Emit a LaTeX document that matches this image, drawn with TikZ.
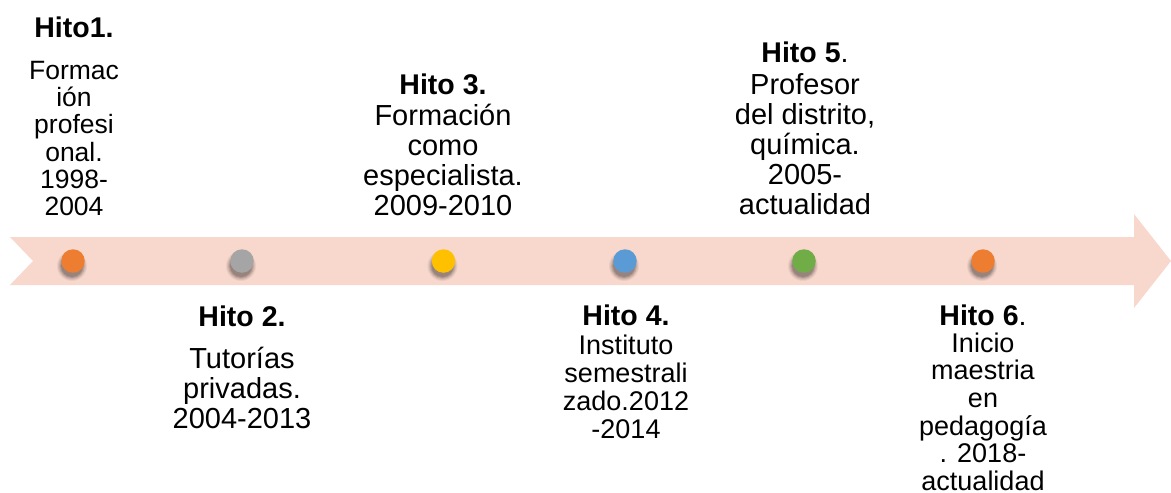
\documentclass[tikz,border=0pt]{standalone}
\usepackage{fontspec}
\setmainfont{Liberation Sans}
\definecolor{bandc}{HTML}{F8D7CC}
\definecolor{dorange}{HTML}{ED7D31}
\definecolor{dgray}{HTML}{A5A5A5}
\definecolor{dyellow}{HTML}{FFC000}
\definecolor{dblue}{HTML}{5B9BD5}
\definecolor{dgreen}{HTML}{70AD47}
\newcommand{\tlcol}[1]{\begin{tabular}[t]{@{}c@{}}#1\end{tabular}}
\begin{document}
\begin{tikzpicture}[x=1pt,y=-1pt,
  dot/.style={circle,minimum size=23.5pt,inner sep=0pt},
  head/.style={inner sep=0pt,anchor=base,font=\fontsize{28.5}{30}\selectfont\bfseries},
  bodyL/.style={inner sep=0pt,anchor=base,font=\fontsize{29}{30}\selectfont},
  bodyS/.style={inner sep=0pt,anchor=base,font=\fontsize{27}{27.5}\selectfont}]
\useasboundingbox (0,0) rectangle (1171,493);
\fill[bandc] (10,237) -- (1134,237) -- (1134,214) -- (1171,261) -- (1134,308)
  -- (1134,285) -- (10,285) -- (33,261) -- cycle;
% soft shadows below the dots
\foreach \px in {73,242,443.5,625,804,983}{
  \foreach \r/\op in {15/0.05,14/0.07,13/0.09,12/0.11,11/0.13}{
    \fill[black,opacity=\op] (\px-1,266) circle (\r);
  }
}
\node[dot,fill=dorange] (d1) at (73,261) {};
\node[dot,fill=dgray] (d2) at (242,261) {};
\node[dot,fill=dyellow] (d3) at (443.5,261) {};
\node[dot,fill=dblue] (d4) at (625,261) {};
\node[dot,fill=dgreen] (d5) at (804,261) {};
\node[dot,fill=dorange] (d6) at (983,261) {};
% Hito 1
\node[head] (h1) at (74,37) {Hito1.};
\node[bodyS,font=\fontsize{26.5}{27}\selectfont] (b1) at (74,79) {\tlcol{Formac\\ión\\profesi\\onal.\\1998-\\2004}};
% Hito 3
\node[head] (h3) at (443,94) {Hito 3.};
\node[bodyL] (b3) at (443,125) {\tlcol{Formación\\como\\especialista.\\2009-2010}};
% Hito 5
\node[head] (h5) at (805,62) {Hito 5\textmd{.}};
\node[bodyL] (b5) at (805,94) {\tlcol{Profesor\\del distrito,\\química.\\2005-\\actualidad}};
% Hito 2
\node[head] (h2) at (242,326) {Hito 2.};
\node[bodyL] (b2) at (242,368) {\tlcol{Tutorías\\privadas.\\2004-2013}};
% Hito 4
\node[head] (h4) at (626,325) {Hito 4.};
\node[bodyS,font=\fontsize{27}{28}\selectfont] (b4) at (626,354) {\tlcol{Instituto\\semestrali\\zado.2012\\-2014}};
% Hito 6
\node[head] (h6) at (983,325) {Hito 6\textmd{.}};
\node[bodyS] (b6) at (983,352) {\tlcol{Inicio\\maestria\\en\\pedagogía\\. 2018-\\actualidad}};
\end{tikzpicture}
\end{document}
